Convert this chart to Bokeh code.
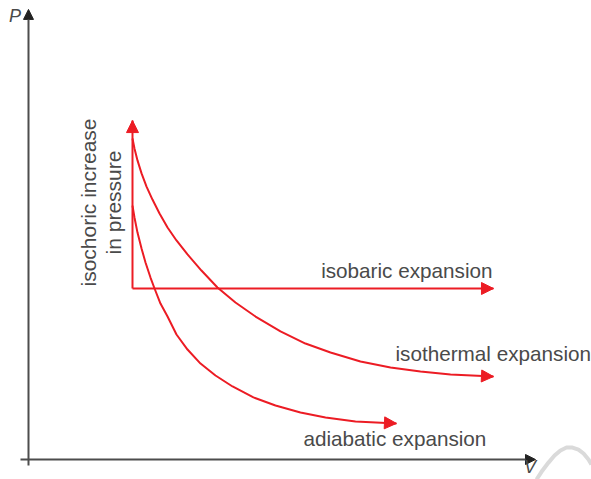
from bokeh.plotting import figure
from bokeh.models import Range1d, Arrow, NormalHead, Label
from bokeh.embed import file_html
from bokeh.resources import INLINE

# ---- data (V, P in arbitrary units; isobaric P = 1, isochoric V = 1) ----
iso_choric_V = [1.0, 1.0]
iso_choric_P = [1.0, 1.982]

iso_baric_V = [1.0, 4.471]
iso_baric_P = [1.0, 1.0]

iso_thermal_V = [1.000, 1.019, 1.048, 1.087, 1.135, 1.192, 1.260, 1.337, 1.423,
                 1.529, 1.663, 1.817, 1.990, 2.183, 2.423, 2.663, 2.904, 3.192,
                 3.481, 3.769, 4.058, 4.471]
iso_thermal_P = [1.877, 1.819, 1.749, 1.673, 1.596, 1.520, 1.439, 1.357, 1.281,
                 1.199, 1.105, 1.006, 0.918, 0.836, 0.749, 0.678, 0.626, 0.573,
                 0.538, 0.515, 0.497, 0.485]

adiabatic_V = [1.000, 1.019, 1.048, 1.087, 1.125, 1.173, 1.212, 1.269, 1.337,
               1.423, 1.529, 1.654, 1.798, 1.962, 2.163, 2.375, 2.615, 2.856,
               3.144, 3.538]
adiabatic_P = [1.485, 1.415, 1.327, 1.234, 1.152, 1.064, 1.000, 0.912, 0.836,
               0.731, 0.643, 0.561, 0.491, 0.427, 0.363, 0.316, 0.275, 0.246,
               0.222, 0.211]

P_axis_V = [0.0, 0.0]
P_axis_P = [-0.035, 2.632]
V_axis_V = [-0.077, 4.875]
V_axis_P = [0.0, 0.0]

smudge_V = [4.885, 4.942, 5.000, 5.058, 5.115, 5.173, 5.231, 5.288, 5.337, 5.385, 5.413]
smudge_P = [-0.117, -0.064, -0.018, 0.023, 0.053, 0.070, 0.070, 0.058, 0.035, 0.000, -0.029]

labels = ["isobaric expansion", "isothermal expansion", "adiabatic expansion"]
label_V = [2.814, 3.529, 2.644]
label_P = [1.105, 0.620, 0.122]

iso_label_lines = ["isochoric increase", "in pressure"]
iso_label_V = [0.577, 0.817]
iso_label_P = [1.503, 1.503]

RED = "#ec1c24"
AX = "#4d4d4d"
TXT = "#4a4a4a"
FONT = "Liberation Sans"

p = figure(width=591, height=479, output_backend="svg", toolbar_location=None,
           x_range=Range1d(-0.2692, 5.4135), y_range=Range1d(-0.1170, 2.6842),
           x_axis_type=None, y_axis_type=None, min_border=0)
p.grid.visible = False
p.outline_line_color = None
p.background_fill_color = "white"

# faint smudge at bottom right
p.line(smudge_V, smudge_P, line_color="#dadada", line_width=4, line_join="round")

# axes
for xs, ys in [(P_axis_V, P_axis_P), (V_axis_V, V_axis_P)]:
    p.add_layout(Arrow(x_start=xs[0], y_start=ys[0], x_end=xs[1], y_end=ys[1],
                       line_color=AX, line_width=2,
                       end=NormalHead(size=10, fill_color="#222222", line_color="#222222")))

# processes
for xs, ys in [(iso_choric_V, iso_choric_P), (iso_baric_V, iso_baric_P),
               (iso_thermal_V, iso_thermal_P), (adiabatic_V, adiabatic_P)]:
    p.line(xs, ys, line_color=RED, line_width=2)
    p.add_layout(Arrow(x_start=xs[-2], y_start=ys[-2], x_end=xs[-1], y_end=ys[-1],
                       line_alpha=0,
                       end=NormalHead(size=12, fill_color=RED, line_color=RED, line_width=1)))

for t, x, y in zip(labels, label_V, label_P):
    p.add_layout(Label(x=x, y=y, text=t, text_font=FONT, text_font_size="20.7px",
                       text_color=TXT, text_baseline="alphabetic", text_align="left"))

for t, x, y in zip(iso_label_lines, iso_label_V, iso_label_P):
    p.add_layout(Label(x=x, y=y, text=t, text_font=FONT, text_font_size="21px",
                       text_color=TXT, text_baseline="alphabetic", text_align="center",
                       angle=1.5708))

p.add_layout(Label(x=-0.1875, y=2.591, text="P", text_font=FONT, text_font_size="18px",
                   text_font_style="italic", text_color=TXT, text_baseline="alphabetic"))
p.add_layout(Label(x=4.764, y=-0.045, text="V", text_font=FONT, text_font_size="18px",
                   text_font_style="italic", text_color=TXT, text_baseline="alphabetic"))

open("out.html", "w").write(file_html(p, INLINE))
